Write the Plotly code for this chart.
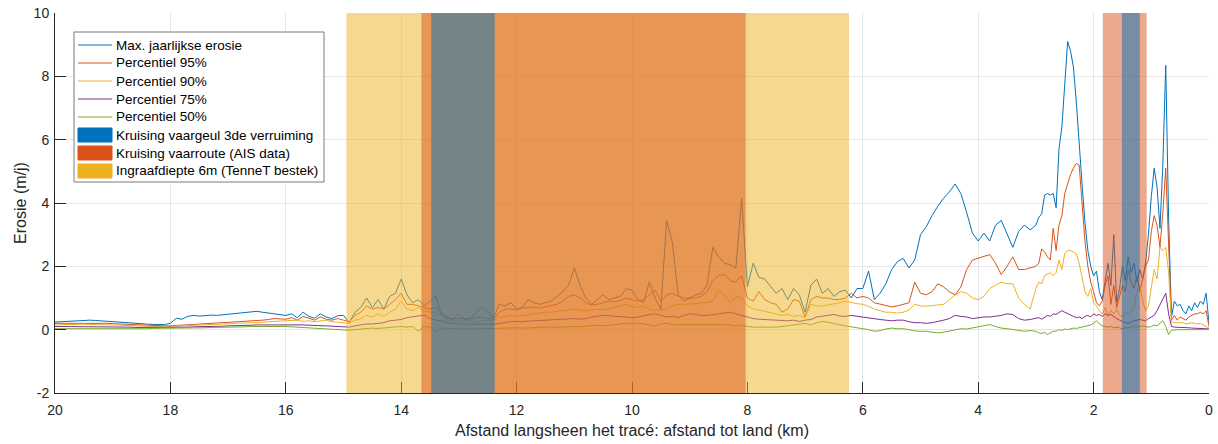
import plotly.graph_objects as go

# Distance to shore (km): 0.1 km steps offshore, 0.05 km steps in the last 3 km
afstand = [round(20 - 0.1 * i, 2) for i in range(170)] + [round(3 - 0.05 * i, 2) for i in range(61)]

max_erosie = [
    0.24, 0.25, 0.27, 0.28, 0.29, 0.30, 0.30, 0.29, 0.28, 0.27,
    0.26, 0.25, 0.24, 0.22, 0.20, 0.19, 0.17, 0.16, 0.15, 0.16,
    0.20, 0.36, 0.33, 0.42, 0.45, 0.43, 0.44, 0.46, 0.45, 0.47,
    0.48, 0.50, 0.52, 0.54, 0.57, 0.58, 0.55, 0.52, 0.50, 0.48,
    0.45, 0.50, 0.38, 0.55, 0.42, 0.36, 0.50, 0.40, 0.35, 0.44,
    0.45, 0.22, 0.55, 0.70, 1.00, 0.70, 0.95, 0.65, 1.05, 1.15,
    1.60, 1.10, 0.85, 0.95, 0.75, 0.90, 1.05, 0.45, 0.37, 0.32,
    0.50, 0.30, 0.35, 0.55, 0.72, 0.55, 0.38, 0.80, 0.75, 0.85,
    0.65, 0.70, 0.95, 0.85, 0.80, 0.85, 0.90, 1.05, 1.20, 1.40,
    1.95, 1.40, 1.00, 0.80, 0.95, 1.10, 0.95, 1.00, 1.05, 1.30,
    1.25, 0.95, 0.85, 1.50, 1.00, 0.65, 3.45, 2.75, 1.10, 0.90,
    1.00, 1.10, 1.15, 1.40, 2.60, 2.30, 2.10, 2.05, 1.95, 4.15,
    1.35, 2.10, 1.65, 1.60, 1.37, 1.15, 1.30, 0.95, 1.30, 1.10,
    0.55, 1.40, 1.60, 1.15, 1.30, 1.05, 1.20, 1.25, 1.00, 1.30,
    1.30, 1.85, 0.95, 1.15, 1.45, 1.90, 2.15, 2.25, 1.95, 2.20,
    3.00, 3.25, 3.60, 3.90, 4.15, 4.35, 4.60, 4.30, 3.70, 3.05,
    2.80, 3.05, 2.80, 3.30, 3.45, 3.00, 2.60, 3.10, 3.30, 3.15,
    3.30, 3.55, 3.65, 4.25, 4.30, 4.25, 4.30, 3.85, 5.70, 6.40,
    7.60, 9.10, 8.80, 8.30, 7.20, 5.80, 4.60, 3.40, 2.50, 2.00,
    1.70, 1.85, 1.20, 0.95, 1.60, 2.10, 1.40, 3.00, 0.85, 1.30,
    2.00, 1.55, 2.30, 1.80, 2.10, 1.50, 1.90, 1.60, 2.10, 3.00,
    4.20, 5.10, 4.50, 3.20, 5.20, 8.35, 3.50, 0.40, 0.90, 0.75,
    0.80, 0.60, 0.50, 0.75, 0.60, 0.85, 0.70, 0.90, 0.80, 1.15,
    0.20,
]

p95 = [
    0.20, 0.20, 0.21, 0.22, 0.22, 0.21, 0.20, 0.20, 0.21, 0.20,
    0.19, 0.18, 0.17, 0.17, 0.16, 0.15, 0.14, 0.12, 0.11, 0.12,
    0.12, 0.13, 0.14, 0.16, 0.18, 0.17, 0.19, 0.20, 0.21, 0.22,
    0.22, 0.24, 0.25, 0.27, 0.26, 0.28, 0.30, 0.32, 0.35, 0.34,
    0.33, 0.38, 0.30, 0.42, 0.35, 0.30, 0.40, 0.33, 0.30, 0.35,
    0.30, 0.25, 0.45, 0.55, 0.75, 0.65, 0.70, 0.65, 0.80, 0.95,
    1.15, 0.80, 0.80, 0.75, 0.70, 0.65, 0.70, 0.55, 0.38, 0.35,
    0.35, 0.33, 0.35, 0.38, 0.40, 0.36, 0.33, 0.55, 0.65, 0.65,
    0.62, 0.68, 0.70, 0.72, 0.68, 0.72, 0.75, 0.80, 0.90, 1.05,
    1.10, 1.00, 0.85, 0.78, 0.80, 0.85, 0.90, 0.88, 0.92, 1.00,
    0.95, 0.90, 0.95, 1.10, 1.25, 0.90, 1.10, 1.15, 1.05, 1.00,
    1.00, 1.00, 1.05, 1.20, 1.55, 1.70, 1.75, 1.55, 1.50, 1.70,
    1.00, 0.90, 1.20, 0.95, 0.85, 0.80, 0.55, 0.65, 0.95, 0.90,
    0.40, 0.95, 1.05, 1.00, 1.00, 0.95, 0.95, 1.00, 1.15, 1.00,
    1.05, 1.00, 0.85, 0.80, 0.75, 0.72, 0.75, 0.80, 0.85, 1.50,
    1.15, 1.10, 1.20, 1.45, 1.35, 1.20, 1.10, 1.35, 1.90, 2.20,
    2.26, 2.30, 2.37, 2.10, 1.74, 2.00, 2.30, 1.90, 1.90, 1.95,
    2.00, 2.10, 2.55, 2.45, 2.30, 2.20, 3.20, 2.50, 3.30, 3.60,
    4.30, 4.60, 4.90, 5.10, 5.25, 5.20, 3.90, 2.80, 2.00, 1.50,
    1.20, 0.85, 0.75, 0.90, 1.40, 1.70, 0.80, 1.40, 0.70, 1.10,
    1.40, 1.20, 1.90, 1.50, 1.30, 1.70, 1.20, 1.60, 2.00, 2.20,
    3.10, 3.60, 3.30, 2.60, 3.70, 5.10, 2.80, 0.30, 0.45, 0.30,
    0.40, 0.35, 0.30, 0.40, 0.45, 0.50, 0.50, 0.55, 0.50, 0.60,
    0.10,
]

p90 = [
    0.15, 0.16, 0.16, 0.17, 0.17, 0.17, 0.16, 0.16, 0.16, 0.15,
    0.15, 0.14, 0.13, 0.13, 0.12, 0.12, 0.11, 0.10, 0.10, 0.10,
    0.10, 0.11, 0.12, 0.13, 0.14, 0.15, 0.15, 0.16, 0.17, 0.17,
    0.18, 0.19, 0.20, 0.21, 0.22, 0.22, 0.24, 0.25, 0.26, 0.27,
    0.28, 0.27, 0.30, 0.26, 0.28, 0.25, 0.27, 0.30, 0.25, 0.24,
    0.22, 0.20, 0.30, 0.35, 0.45, 0.40, 0.50, 0.42, 0.55, 0.65,
    0.90, 0.65, 0.60, 0.70, 0.60, 0.55, 0.55, 0.45, 0.30, 0.28,
    0.28, 0.26, 0.28, 0.25, 0.30, 0.27, 0.28, 0.40, 0.42, 0.45,
    0.42, 0.45, 0.48, 0.50, 0.52, 0.55, 0.55, 0.58, 0.60, 0.62,
    0.65, 0.62, 0.60, 0.62, 0.65, 0.62, 0.66, 0.70, 0.75, 0.80,
    0.72, 0.70, 0.75, 0.65, 0.60, 0.62, 0.65, 0.75, 0.80, 0.80,
    0.80, 0.82, 0.85, 0.85, 0.90, 1.25, 1.10, 0.85, 1.05, 1.00,
    0.75, 0.65, 0.62, 0.58, 0.55, 0.50, 0.45, 0.48, 0.42, 0.45,
    0.38, 0.80, 0.75, 0.75, 0.78, 0.80, 0.85, 0.90, 0.85, 0.82,
    0.80, 0.74, 0.65, 0.60, 0.55, 0.55, 0.52, 0.55, 0.62, 0.80,
    0.75, 0.74, 0.75, 0.78, 0.80, 0.95, 1.10, 1.20, 1.15, 1.00,
    0.95, 1.05, 1.30, 1.40, 1.50, 1.45, 1.45, 1.00, 0.80, 0.65,
    1.30, 1.50, 1.45, 1.70, 1.75, 1.80, 1.70, 1.80, 2.20, 1.90,
    2.40, 2.50, 2.50, 2.45, 2.40, 2.10, 1.60, 1.20, 1.05, 1.30,
    0.85, 0.75, 0.60, 0.50, 0.70, 0.45, 0.60, 0.50, 0.65, 0.45,
    0.40, 0.55, 0.50, 0.60, 0.70, 1.20, 1.40, 0.90, 0.60, 0.75,
    1.40, 1.90, 1.60, 2.60, 2.50, 2.60, 1.80, 0.25, 0.22, 0.22,
    0.20, 0.22, 0.18, 0.20, 0.22, 0.20, 0.18, 0.20, 0.15, 0.12,
    0.05,
]

p75 = [
    0.10, 0.10, 0.10, 0.10, 0.10, 0.09, 0.09, 0.09, 0.09, 0.09,
    0.08, 0.08, 0.08, 0.08, 0.07, 0.07, 0.07, 0.06, 0.06, 0.06,
    0.06, 0.07, 0.07, 0.08, 0.09, 0.09, 0.10, 0.10, 0.11, 0.11,
    0.12, 0.12, 0.13, 0.13, 0.14, 0.15, 0.15, 0.16, 0.17, 0.17,
    0.17, 0.16, 0.16, 0.15, 0.14, 0.14, 0.13, 0.12, 0.11, 0.10,
    0.10, 0.08, 0.12, 0.15, 0.18, 0.18, 0.20, 0.22, 0.28, 0.30,
    0.32, 0.38, 0.40, 0.42, 0.46, 0.35, 0.30, 0.28, 0.22, 0.20,
    0.18, 0.18, 0.17, 0.18, 0.17, 0.18, 0.17, 0.20, 0.22, 0.25,
    0.26, 0.25, 0.27, 0.28, 0.30, 0.30, 0.32, 0.33, 0.32, 0.34,
    0.35, 0.33, 0.35, 0.40, 0.42, 0.45, 0.44, 0.42, 0.40, 0.38,
    0.38, 0.40, 0.45, 0.48, 0.50, 0.45, 0.40, 0.42, 0.38, 0.45,
    0.50, 0.48, 0.45, 0.45, 0.48, 0.50, 0.52, 0.55, 0.50, 0.45,
    0.38, 0.35, 0.33, 0.32, 0.30, 0.30, 0.28, 0.28, 0.30, 0.26,
    0.30, 0.32, 0.40, 0.42, 0.45, 0.48, 0.43, 0.42, 0.45, 0.42,
    0.40, 0.38, 0.35, 0.32, 0.30, 0.28, 0.30, 0.30, 0.25, 0.22,
    0.22, 0.20, 0.22, 0.25, 0.30, 0.35, 0.45, 0.42, 0.40, 0.35,
    0.38, 0.40, 0.40, 0.42, 0.45, 0.50, 0.48, 0.35, 0.30, 0.32,
    0.35, 0.38, 0.33, 0.40, 0.45, 0.42, 0.50, 0.48, 0.55, 0.60,
    0.55, 0.50, 0.45, 0.42, 0.38, 0.40, 0.35, 0.42, 0.45, 0.40,
    0.50, 0.45, 0.48, 0.42, 0.50, 0.45, 0.48, 0.40, 0.35, 0.30,
    0.25, 0.22, 0.20, 0.25, 0.28, 0.30, 0.32, 0.30, 0.28, 0.35,
    0.40, 0.45, 0.60, 0.80, 0.95, 1.15, 0.50, 0.10, 0.08, 0.08,
    0.07, 0.07, 0.06, 0.06, 0.05, 0.05, 0.05, 0.04, 0.04, 0.03,
    0.02,
]

p50 = [
    0.03, 0.03, 0.03, 0.02, 0.02, 0.02, 0.02, 0.02, 0.01, 0.01,
    0.01, 0.01, 0.02, 0.02, 0.02, 0.03, 0.03, 0.04, 0.04, 0.04,
    0.04, 0.05, 0.05, 0.05, 0.06, 0.06, 0.06, 0.07, 0.07, 0.07,
    0.08, 0.08, 0.08, 0.09, 0.10, 0.10, 0.11, 0.12, 0.12, 0.11,
    0.10, 0.09, 0.08, 0.07, 0.06, 0.05, 0.04, 0.03, 0.03, 0.02,
    0.00, -0.02, 0.00, 0.02, 0.03, 0.05, 0.04, 0.06, 0.08, 0.10,
    0.10, 0.08, 0.10, -0.05, 0.10, 0.08, -0.08, 0.05, 0.04, 0.03,
    0.03, 0.02, 0.03, 0.03, 0.02, 0.03, 0.04, 0.04, 0.05, 0.06,
    0.06, 0.05, 0.05, 0.06, 0.08, 0.09, 0.08, 0.08, 0.09, 0.10,
    0.10, 0.09, 0.10, 0.12, 0.14, 0.12, 0.13, 0.15, 0.18, 0.20,
    0.18, 0.20, 0.18, 0.15, 0.12, 0.18, 0.20, 0.16, 0.16, 0.17,
    0.17, 0.16, 0.18, 0.18, 0.17, 0.18, 0.16, 0.15, 0.12, 0.15,
    0.10, 0.08, 0.08, 0.07, 0.06, 0.08, 0.10, 0.12, 0.15, 0.18,
    0.20, 0.15, 0.22, 0.26, 0.24, 0.20, 0.15, 0.12, 0.10, 0.08,
    0.05, 0.00, -0.05, -0.03, 0.02, 0.05, 0.03, 0.03, 0.00, -0.04,
    -0.05, -0.05, -0.08, -0.10, -0.08, -0.05, 0.00, 0.03, 0.02, 0.05,
    0.08, 0.12, 0.16, 0.10, 0.05, 0.03, 0.00, -0.02, -0.05, -0.03,
    -0.05, -0.10, -0.12, -0.08, -0.15, -0.10, -0.05, -0.05, 0.00, -0.02,
    0.02, 0.00, 0.03, 0.05, 0.04, 0.06, 0.08, 0.10, 0.12, 0.15,
    0.20, 0.28, 0.18, 0.12, 0.10, 0.08, 0.10, 0.06, 0.08, 0.05,
    0.03, 0.06, 0.05, 0.08, 0.10, 0.08, 0.10, 0.12, 0.10, 0.08,
    0.10, 0.15, 0.12, 0.20, 0.28, 0.10, -0.15, -0.02, 0.00, 0.00,
    0.00, 0.00, 0.00, 0.00, 0.00, 0.00, 0.00, 0.00, 0.00, 0.00,
    0.00,
]

series = [
    ("Max. jaarlijkse erosie", max_erosie, "#0072BD"),
    ("Percentiel 95%", p95, "#D95319"),
    ("Percentiel 90%", p90, "#EDB120"),
    ("Percentiel 75%", p75, "#7E2F8E"),
    ("Percentiel 50%", p50, "#77AC30"),
]

x_ticks = [20, 18, 16, 14, 12, 10, 8, 6, 4, 2, 0]
x_ticklabels = ["20", "18", "16", "14", "12", "10", "8", "6", "4", "2", "0"]
y_ticks = [-2, 0, 2, 4, 6, 8, 10]
y_ticklabels = ["-2", "0", "2", "4", "6", "8", "10"]

# Crossing zones along the route (from km, to km)
ingraaf_zones = [(14.95, 6.24)]
vaarroute_zones = [(13.65, 8.03), (1.84, 1.08)]
vaargeul_zones = [(13.48, 12.38), (1.51, 1.20)]

# drawn bottom to top
zones = [
    ("Ingraafdiepte 6m (TenneT bestek)", "#EDB120", ingraaf_zones),
    ("Kruising vaarroute (AIS data)", "#D95319", vaarroute_zones),
    ("Kruising vaargeul 3de verruiming", "#0072BD", vaargeul_zones),
]

fig = go.Figure()
for name, vals, col in series:
    fig.add_trace(go.Scatter(
        x=afstand, y=vals, mode="lines", name=name,
        line=dict(color=col, width=1), showlegend=False,
    ))

shapes = []
for name, col, spans in zones:
    for a, b in spans:
        shapes.append(dict(
            type="rect", xref="x", yref="y", x0=a, x1=b, y0=-2, y1=10,
            fillcolor=col, opacity=0.5, line=dict(width=0), layer="above",
        ))

# ---- legend box drawn in pixel units of the plot area ----
PLOT_L, PLOT_W, PLOT_B, PLOT_H = 55, 1154, 393, 380


def px(xp):
    return (xp - PLOT_L) / PLOT_W


def py(yp):
    return (PLOT_B - yp) / PLOT_H


font = "Liberation Sans, Arial, sans-serif"
annotations = []
shapes.append(dict(
    type="rect", xref="paper", yref="paper",
    x0=px(74), x1=px(324), y0=py(182), y1=py(32),
    fillcolor="white", line=dict(color="#7a7a7a", width=1), layer="above",
))
legend_items = [(n, c, "line") for n, _, c in series] + [
    ("Kruising vaargeul 3de verruiming", "#0072BD", "patch"),
    ("Kruising vaarroute (AIS data)", "#D95319", "patch"),
    ("Ingraafdiepte 6m (TenneT bestek)", "#EDB120", "patch"),
]
for k, (name, col, kind) in enumerate(legend_items):
    yc = 45 + 18 * k
    if kind == "line":
        shapes.append(dict(
            type="line", xref="paper", yref="paper",
            x0=px(78), x1=px(112), y0=py(yc), y1=py(yc),
            line=dict(color=col, width=1), layer="above",
        ))
    else:
        shapes.append(dict(
            type="rect", xref="paper", yref="paper",
            x0=px(78), x1=px(112), y0=py(yc + 7), y1=py(yc - 7),
            fillcolor=col, line=dict(color=col, width=1), layer="above",
        ))
    annotations.append(dict(
        text=name, xref="paper", yref="paper", x=px(114), y=py(yc),
        xanchor="left", yanchor="middle", showarrow=False,
        font=dict(family=font, size=13.5, color="#000000"),
    ))

fig.update_layout(
    width=1218, height=444,
    margin=dict(l=PLOT_L, r=1218 - PLOT_L - PLOT_W, t=PLOT_B - PLOT_H, b=444 - PLOT_B),
    paper_bgcolor="white", plot_bgcolor="white",
    font=dict(family=font, size=14, color="#262626"),
    shapes=shapes, annotations=annotations,
    showlegend=False,
    xaxis=dict(
        range=[20, 0], tickmode="array", tickvals=x_ticks, ticktext=x_ticklabels,
        showgrid=True, gridcolor="#e6e6e6", gridwidth=1, zeroline=False,
        showline=True, linecolor="#262626", linewidth=1, automargin=False,
        ticks="inside", ticklen=11, tickcolor="#262626", ticklabelstandoff=4,
        title=dict(text="Afstand langsheen het tracé: afstand tot land (km)", standoff=8,
                   font=dict(size=16)),
        tickfont=dict(size=14),
    ),
    yaxis=dict(
        range=[-2, 10], tickmode="array", tickvals=y_ticks, ticktext=y_ticklabels,
        showgrid=True, gridcolor="#e6e6e6", gridwidth=1, zeroline=False,
        showline=True, linecolor="#262626", linewidth=1, automargin=False,
        ticks="inside", ticklen=11, tickcolor="#262626", ticklabelstandoff=2,
        title=dict(text="Erosie (m/j)", standoff=3, font=dict(size=16)),
        tickfont=dict(size=14),
    ),
)

fig.write_html("out.html")
